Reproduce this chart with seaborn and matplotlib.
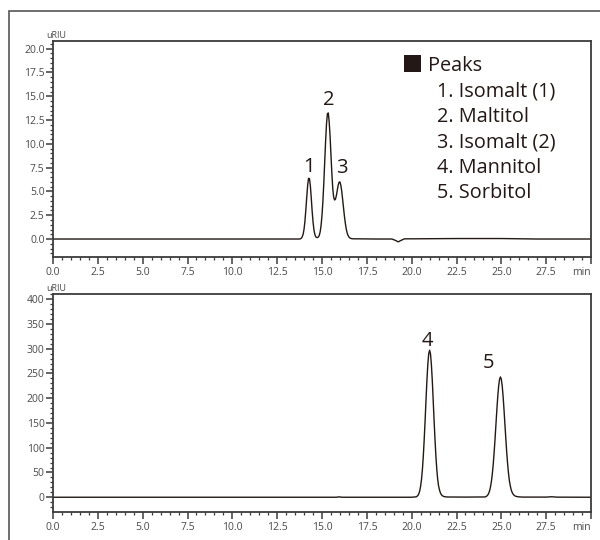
import numpy as np
import matplotlib
matplotlib.use("Agg")
import matplotlib.pyplot as plt
import seaborn as sns
from matplotlib.ticker import MultipleLocator
from matplotlib.patches import Rectangle

# ---------------- data ----------------
top_time = [0.0, 1.5, 2.2, 5.5, 10.0, 12.5, 13.5, 13.70, 13.75, 13.80, 13.85, 13.90, 13.95,
            14.00, 14.05, 14.10, 14.15, 14.20, 14.25, 14.30, 14.35, 14.40, 14.45,
            14.50, 14.55, 14.60, 14.65, 14.70, 14.75, 14.80, 14.85, 14.90, 14.95,
            15.00, 15.05, 15.10, 15.15, 15.20, 15.25, 15.30, 15.35, 15.40, 15.45,
            15.50, 15.55, 15.60, 15.65, 15.70, 15.75, 15.80, 15.85, 15.90, 15.95,
            16.00, 16.05, 16.10, 16.15, 16.20, 16.25, 16.30, 16.35, 16.40, 16.45,
            16.50, 16.55, 16.60, 16.65, 16.70, 16.80, 17.0, 18.0, 18.9, 19.1,
            19.25, 19.4, 19.6, 20.0, 22.5, 25.0, 27.0, 30.0]
top_signal = [0.0, 0.0, 0.0, 0.0, 0.0, 0.0, 0.0, 0.0, 0.0, 0.03, 0.09, 0.24, 0.52,
              1.05, 1.90, 3.10, 4.40, 5.65, 6.38, 6.35, 5.60, 4.35, 2.95,
              1.80, 0.97, 0.48, 0.24, 0.16, 0.15, 0.22, 0.39, 0.78, 1.46,
              2.49, 3.95, 5.86, 8.07, 10.25, 12.06, 13.15, 13.25, 12.33, 10.82,
              8.84, 6.90, 5.31, 4.40, 4.10, 4.20, 4.55, 5.10, 5.63, 5.97,
              6.00, 5.66, 5.02, 4.18, 3.28, 2.41, 1.67, 1.08, 0.66, 0.38,
              0.22, 0.12, 0.07, 0.04, 0.03, 0.02, 0.02, 0.0, 0.0, -0.15,
              -0.30, -0.15, 0.02, 0.02, 0.05, 0.05, 0.0, 0.0]

bot_time = [0.0, 5.0, 10.0, 15.8, 15.95, 16.1, 20.0, 20.25, 20.30, 20.35, 20.40, 20.45,
            20.50, 20.55, 20.60, 20.65, 20.70, 20.75, 20.80, 20.85, 20.90, 20.95,
            21.00, 21.05, 21.10, 21.15, 21.20, 21.25, 21.30, 21.35, 21.40, 21.45,
            21.50, 21.55, 21.60, 21.65, 21.70, 21.75, 21.80, 21.90, 22.00, 23.0,
            24.10, 24.15, 24.20, 24.25, 24.30, 24.35, 24.40, 24.45, 24.50, 24.55,
            24.60, 24.65, 24.70, 24.75, 24.80, 24.85, 24.90, 24.95, 25.00, 25.05,
            25.10, 25.15, 25.20, 25.25, 25.30, 25.35, 25.40, 25.45, 25.50, 25.55,
            25.60, 25.65, 25.70, 25.75, 25.80, 25.90, 26.00, 26.20, 27.5, 27.8,
            28.1, 30.0]
bot_signal = [0.0, 0.0, 0.0, 0.0, 0.8, 0.0, 0.0, 0.8, 1.9, 3.8, 7.2, 13.0,
              22.6, 36.5, 56.7, 83.8, 117.6, 155.0, 196.3, 235.5, 267.9, 289.6,
              297.0, 289.6, 267.9, 235.5, 196.3, 155.0, 117.6, 83.8, 56.7, 36.5,
              23.0, 15.0, 9.0, 5.5, 3.5, 2.2, 1.4, 0.8, 0.5, 0.3,
              0.6, 1.5, 2.7, 4.8, 8.3, 13.6, 21.6, 32.9, 48.1, 67.5,
              91.2, 118.3, 147.4, 176.5, 203.0, 224.3, 238.2, 243.0, 238.2, 224.3,
              203.0, 176.5, 147.4, 118.3, 91.2, 67.5, 48.1, 32.9, 23.0, 15.0,
              10.0, 6.5, 4.5, 3.0, 2.0, 1.2, 0.7, 0.3, 0.3, 1.0,
              0.2, 0.0]

peak_labels_top = ["1", "2", "3"]
peak_label_x_top = [14.29, 15.40, 16.13]
peak_label_y_top = [7.04, 14.08, 6.94]
peak_labels_bot = ["4", "5"]
peak_label_x_bot = [20.86, 24.31]
peak_label_y_bot = [304.7, 262.0]

legend_title = "Peaks"
legend_items = ["1. Isomalt (1)", "2. Maltitol", "3. Isomalt (2)", "4. Mannitol", "5. Sorbitol"]

x_ticks = [0.0, 2.5, 5.0, 7.5, 10.0, 12.5, 15.0, 17.5, 20.0, 22.5, 25.0, 27.5, 30.0]
x_ticklabels = ["0.0", "2.5", "5.0", "7.5", "10.0", "12.5", "15.0", "17.5", "20.0",
                "22.5", "25.0", "27.5", "min"]
top_yticks = [0.0, 2.5, 5.0, 7.5, 10.0, 12.5, 15.0, 17.5, 20.0]
top_yticklabels = ["0.0", "2.5", "5.0", "7.5", "10.0", "12.5", "15.0", "17.5", "20.0"]
bot_yticks = [0, 50, 100, 150, 200, 250, 300, 350, 400]
bot_yticklabels = ["0", "50", "100", "150", "200", "250", "300", "350", "400"]
y_unit = "uRIU"

# ---------------- style ----------------
sns.set_style("ticks")
plt.rcParams["font.family"] = ["Open Sans", "DejaVu Sans"]

INK = "#231815"
SPINE = "#3c3c3c"
TICKC = "#4a4a4a"

W, H = 600, 540
fig = plt.figure(figsize=(6, 5.4), dpi=100)

def px_axes(l, t, r, b):
    return fig.add_axes([l / W, 1 - b / H, (r - l) / W, (b - t) / H])

ax1 = px_axes(53, 41, 591, 257)
ax2 = px_axes(53, 294, 591, 511.7)

sns.lineplot(x=top_time, y=top_signal, ax=ax1, color=INK, linewidth=1.0,
             estimator=None, sort=False)
sns.lineplot(x=bot_time, y=bot_signal, ax=ax2, color=INK, linewidth=1.0,
             estimator=None, sort=False)

ax1.set_ylim(-1.89, 20.81)
ax2.set_ylim(-29.2, 410.5)

for ax, yt, ytl, yminor in [(ax1, top_yticks, top_yticklabels, 0.5),
                            (ax2, bot_yticks, bot_yticklabels, 10)]:
    ax.set_xlim(0, 30)
    ax.set_xticks(x_ticks)
    ax.set_xticklabels(x_ticklabels)
    ax.set_yticks(yt)
    ax.set_yticklabels(ytl)
    ax.xaxis.set_minor_locator(MultipleLocator(0.5))
    ax.yaxis.set_minor_locator(MultipleLocator(yminor))
    ax.set_xlabel("")
    ax.set_ylabel("")
    for s in ax.spines.values():
        s.set_visible(True)
        s.set_color(SPINE)
        s.set_linewidth(1.3)
    ax.tick_params(axis="both", which="major", length=5, width=1.1, color=SPINE,
                   labelsize=7.5, labelcolor=TICKC, direction="out")
    ax.tick_params(axis="both", which="minor", length=2.5, width=0.9, color=SPINE,
                   direction="out")
    ax.tick_params(axis="y", which="major", pad=1)
    ax.tick_params(axis="x", which="major", pad=2.5)
    ax.get_xticklabels()[-1].set_horizontalalignment("right")
    ax.text(-0.012, 1.006, y_unit, transform=ax.transAxes, fontsize=6.5,
            color=TICKC, ha="left", va="bottom")

for lab, x, y in zip(peak_labels_top, peak_label_x_top, peak_label_y_top):
    ax1.text(x, y, lab, fontsize=14.5, color=INK, ha="center", va="baseline")
for lab, x, y in zip(peak_labels_bot, peak_label_x_bot, peak_label_y_bot):
    ax2.text(x, y, lab, fontsize=14.5, color=INK, ha="center", va="baseline")

# legend block
fig.add_artist(Rectangle((404 / W, 1 - 72 / H), 17 / W, 17 / H,
                         transform=fig.transFigure, color=INK, lw=0))
fig.text(428 / W, 1 - 71 / H, legend_title, fontsize=14.3, color=INK,
         ha="left", va="baseline")
for i, item in enumerate(legend_items):
    fig.text(437 / W, 1 - (97 + 25.3 * i) / H, item, fontsize=14.3, color=INK,
             ha="left", va="baseline")

# outer frame (clipped on right and bottom in the reference)
fig.add_artist(Rectangle((9 / W, -0.05), 1.2, 1 - 11 / H + 0.05,
                         transform=fig.transFigure, fill=False,
                         edgecolor="#555555", lw=1.2))

fig.savefig("out.png", dpi=100)
